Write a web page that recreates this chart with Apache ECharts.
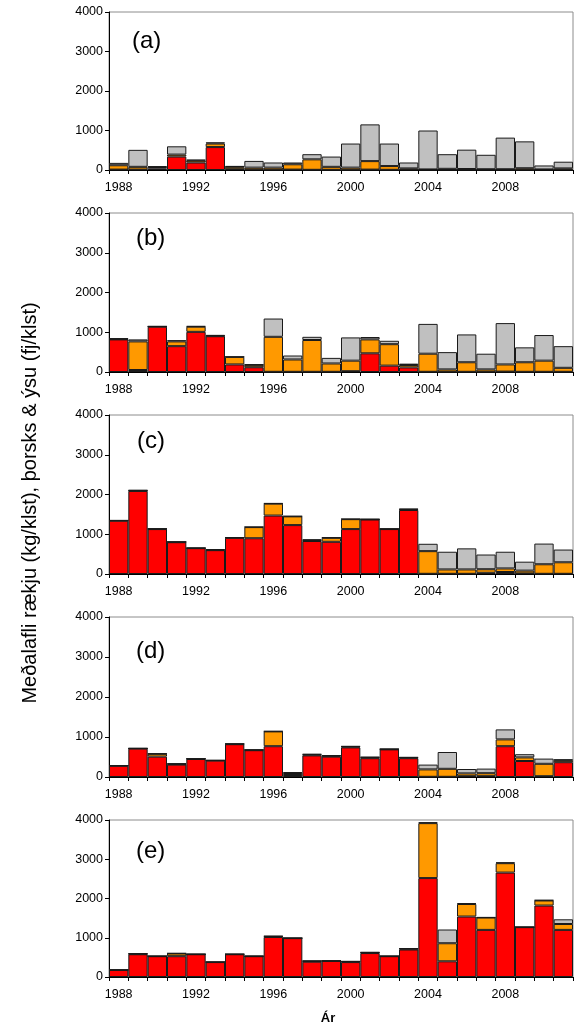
<!DOCTYPE html>
<html>
<head>
<meta charset="utf-8">
<script src="https://cdn.jsdelivr.net/npm/echarts@6/dist/echarts.min.js"></script>
<style>
  html, body { margin: 0; padding: 0; background: #fff; }
  #chart { width: 575px; height: 1026px; }
</style>
</head>
<body>
<div id="chart"></div>
<script>
// Survey years
const years = ['1988','1989','1990','1991','1992','1993','1994','1995','1996','1997','1998','1999',
               '2000','2001','2002','2003','2004','2005','2006','2007','2008','2009','2010','2011'];

// Panel labels and y-axis ticks
const panelLabels = ['(a)', '(b)', '(c)', '(d)', '(e)'];
const yTicks = [0, 1000, 2000, 3000, 4000];

// (a)
const redA    = [10, 10, 40, 340, 190, 580, 20, 10, 5, 10, 5, 5, 5, 10, 5, 10, 5, 5, 5, 5, 5, 5, 5, 10];
const orangeA = [110, 70, 35, 50, 50, 90, 60, 50, 55, 135, 265, 75, 55, 215, 95, 30, 10, 25, 20, 15, 15, 40, 10, 30];
const greyA   = [60, 430, 20, 210, 20, 30, 20, 170, 130, 45, 130, 260, 610, 930, 570, 150, 985, 370, 490, 365, 800, 680, 100, 170];

// (b)
const redB    = [820, 50, 1140, 650, 1010, 900, 190, 120, 5, 5, 5, 5, 20, 470, 160, 115, 5, 5, 5, 5, 10, 5, 5, 5];
const orangeB = [10, 720, 5, 120, 130, 10, 190, 60, 880, 310, 800, 210, 265, 350, 540, 60, 455, 60, 240, 60, 180, 240, 280, 100];
const greyB   = [15, 50, 5, 30, 15, 20, 5, 10, 460, 100, 80, 140, 585, 60, 85, 35, 750, 435, 700, 395, 1040, 375, 645, 545];

// (c)
const redC    = [1340, 2090, 1130, 800, 650, 600, 910, 900, 1470, 1230, 830, 810, 1130, 1370, 1130, 1610, 5, 5, 5, 30, 50, 15, 5, 5];
const orangeC = [5, 10, 5, 5, 0, 5, 5, 280, 300, 220, 20, 100, 250, 5, 0, 15, 570, 110, 110, 90, 90, 70, 240, 290];
const greyC   = [5, 10, 5, 5, 5, 20, 5, 5, 10, 5, 20, 10, 5, 5, 10, 15, 185, 445, 530, 370, 420, 225, 520, 320];

// (d)
const redD    = [280, 710, 510, 310, 450, 410, 820, 670, 770, 50, 540, 510, 740, 470, 690, 470, 5, 5, 20, 20, 770, 400, 20, 370];
const orangeD = [5, 5, 70, 15, 5, 5, 5, 5, 370, 50, 20, 20, 20, 20, 5, 15, 185, 200, 70, 75, 170, 90, 310, 50];
const greyD   = [5, 5, 5, 15, 5, 5, 5, 5, 5, 20, 15, 10, 10, 10, 5, 10, 120, 420, 110, 115, 250, 80, 130, 20];

// (e)
const redE    = [180, 580, 530, 530, 580, 380, 580, 530, 1020, 990, 390, 410, 380, 610, 530, 700, 2520, 400, 1540, 1200, 2660, 1270, 1820, 1200];
const orangeE = [0, 10, 0, 70, 0, 0, 0, 0, 15, 0, 15, 0, 15, 15, 0, 20, 1400, 460, 320, 315, 240, 0, 130, 150];
const greyE   = [0, 10, 0, 5, 0, 0, 0, 0, 10, 0, 10, 0, 5, 5, 0, 10, 20, 350, 20, 5, 20, 0, 10, 120];

const panels = [
  { red: redA, orange: orangeA, grey: greyA },
  { red: redB, orange: orangeB, grey: greyB },
  { red: redC, orange: orangeC, grey: greyC },
  { red: redD, orange: orangeD, grey: greyD },
  { red: redE, orange: orangeE, grey: greyE }
];

// Plot-area placement of each panel (px)
const gridTops    = [12, 213, 415, 617, 820];
const gridHeights = [158, 159, 159, 160, 157];
const labelPos    = [[132, 43], [136, 240], [137, 443], [136, 653], [136, 853]];

const FONT = 'Arial, "Liberation Sans", Helvetica, sans-serif';
const colors = { red: '#FF0000', orange: '#FF9900', grey: '#C0C0C0' };

const grid = [], xAxis = [], yAxis = [], series = [], graphic = [];

panels.forEach((p, i) => {
  grid.push({
    left: 109, right: 2, top: gridTops[i], height: gridHeights[i],
    show: true, borderColor: '#8c8c8c', borderWidth: 1, backgroundColor: 'transparent'
  });
  xAxis.push({
    type: 'category', gridIndex: i, data: years,
    axisLine: { show: true, lineStyle: { color: '#000', width: 1 } },
    axisTick: { show: true, interval: 0, length: 4, alignWithLabel: false, lineStyle: { color: '#000' } },
    axisLabel: { interval: 3, margin: 11, fontSize: 12.5, color: '#000', fontFamily: FONT }
  });
  yAxis.push({
    type: 'value', gridIndex: i, min: yTicks[0], max: yTicks[yTicks.length - 1], interval: 1000,
    axisLine: { show: true, lineStyle: { color: '#000', width: 1 } },
    axisTick: { show: true, length: 4, lineStyle: { color: '#000' } },
    axisLabel: { margin: 6, fontSize: 12.5, color: '#000', fontFamily: FONT, formatter: v => String(v) },
    splitLine: { show: false }
  });
  ['red', 'orange', 'grey'].forEach(key => {
    series.push({
      type: 'bar', xAxisIndex: i, yAxisIndex: i, stack: 'panel' + i,
      data: p[key], barCategoryGap: '0%', barGap: '0%',
      itemStyle: { color: colors[key], borderColor: '#1a1a1a', borderWidth: 1 },
      emphasis: { disabled: true }, animation: false
    });
  });
  graphic.push({
    type: 'text', left: labelPos[i][0], top: labelPos[i][1] - 14,
    style: { text: panelLabels[i], font: '24px ' + FONT, fill: '#000' }
  });
});

// Shared y-axis title
graphic.push({
  type: 'text', x: 30, y: 503, rotation: Math.PI / 2,
  style: {
    text: 'Meðalafli rækju (kg/klst), þorsks & ýsu (fj/klst)',
    font: '20px ' + FONT, fill: '#000', textAlign: 'center', textVerticalAlign: 'middle'
  }
});

// x-axis title under the last panel
graphic.push({
  type: 'text', x: 328, y: 1018,
  style: { text: 'Ár', font: 'bold 13px ' + FONT, fill: '#000', textAlign: 'center', textVerticalAlign: 'middle' }
});

const chart = echarts.init(document.getElementById('chart'), null, { renderer: 'canvas' });
chart.setOption({
  animation: false,
  backgroundColor: '#fff',
  textStyle: { fontFamily: FONT },
  grid, xAxis, yAxis, series, graphic
});
</script>
</body>
</html>
